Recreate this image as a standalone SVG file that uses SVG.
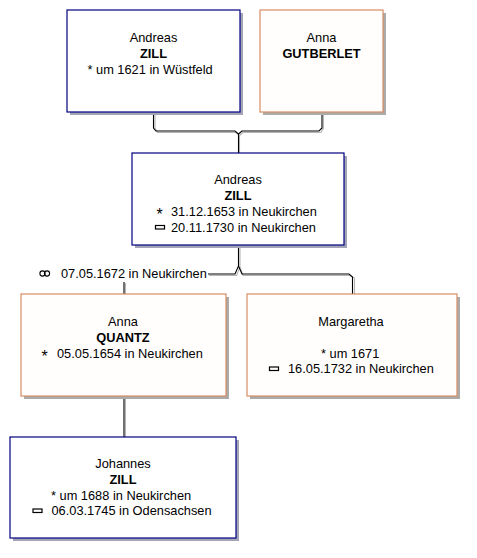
<svg xmlns="http://www.w3.org/2000/svg" width="477" height="558" viewBox="0 0 477 558">
<style>
  text { font-family: "Liberation Sans", Arial, sans-serif; font-size: 12.8px; fill: #000; }
  .c { text-anchor: middle; }
  .b { font-weight: bold; }
  .st { font-size: 16px; }
  .m { fill: #fff; stroke: #000080; stroke-width: 1.2; }
  .f { fill: #fffefc; stroke: #d88c64; stroke-width: 1.2; }
  .ms { fill: #a4a4b8; }
  .fs { fill: #ababab; }
  .ln { fill: none; stroke: #000; stroke-width: 1.1; }
  .sh { fill: none; stroke: #b4b4b4; stroke-width: 1.1; }
  .bur { fill: none; stroke: #000; stroke-width: 1.2; }
</style>
<rect width="477" height="558" fill="#fff"/>
<g id="connectors">
  <path class="sh" d="M155,113 V128 L157.5,132.5 H236 L239.5,135.5 V153 M323.5,113 V128 L321,132.5 H243 L239.5,135.5"/>
  <path class="ln" d="M153.5,112 V128 L156,131 H235 L238.5,134 V153 M322,112 V128 L319,131 H242 L238.5,134"/>
  <path class="sh" d="M240,246 V267 L236.5,275.5 H209 M240,267 L243,275.5 H350 L354.5,278 V294 M125.5,283 V294 M125.5,397 V437"/>
  <path class="ln" d="M238.5,245 V266 L235,274 H208 M238.5,266 L242,274 H349 L352.5,277 V294 M124,282 V294 M124,396 V437"/>
</g>
<g id="marriage-label">
  <circle cx="42.5" cy="273.5" r="2.6" fill="none" stroke="#000" stroke-width="1.1"/>
  <circle cx="47" cy="273.5" r="2.6" fill="none" stroke="#000" stroke-width="1.1"/>
  <text x="61" y="278">07.05.1672 in Neukirchen</text>
</g>
<g id="n1">
  <rect class="ms" x="70" y="13" width="173" height="102"/>
  <rect class="m" x="67" y="10" width="173" height="102"/>
  <text class="c" x="153.5" y="42">Andreas</text>
  <text class="c b" x="153.5" y="58">ZILL</text>
  <text x="87.5" y="74">* um 1621 in Wüstfeld</text>
</g>
<g id="n2">
  <rect class="fs" x="263" y="13" width="123" height="102"/>
  <rect class="f" x="260" y="10" width="123" height="102"/>
  <text class="c" x="321.5" y="42">Anna</text>
  <text class="c b" x="321.5" y="58">GUTBERLET</text>
</g>
<g id="n3">
  <rect class="ms" x="135" y="156" width="212" height="92"/>
  <rect class="m" x="132" y="153" width="212" height="92"/>
  <text class="c" x="238" y="184">Andreas</text>
  <text class="c b" x="238" y="200">ZILL</text>
  <text x="156.5" y="220"><tspan class="st">*</tspan><tspan x="171" y="216">31.12.1653 in Neukirchen</tspan></text>
  <rect class="bur" x="155.5" y="225.5" width="9" height="3.5"/>
  <text x="171" y="232">20.11.1730 in Neukirchen</text>
</g>
<g id="n4">
  <rect class="fs" x="24" y="297" width="205" height="102"/>
  <rect class="f" x="21" y="294" width="205" height="102"/>
  <text class="c" x="123" y="326">Anna</text>
  <text class="c b" x="123" y="342">QUANTZ</text>
  <text x="41.5" y="362"><tspan class="st">*</tspan><tspan x="57" y="358">05.05.1654 in Neukirchen</tspan></text>
</g>
<g id="n5">
  <rect class="fs" x="250" y="297" width="210" height="102"/>
  <rect class="f" x="247" y="294" width="210" height="102"/>
  <text class="c" x="351" y="326">Margaretha</text>
  <text x="321" y="358">* um 1671</text>
  <rect class="bur" x="269.5" y="367" width="9" height="3.5"/>
  <text x="288" y="373">16.05.1732 in Neukirchen</text>
</g>
<g id="n6">
  <rect class="ms" x="13" y="440" width="226" height="101"/>
  <rect class="m" x="10" y="437" width="226" height="101"/>
  <text class="c" x="123" y="468">Johannes</text>
  <text class="c b" x="123" y="484">ZILL</text>
  <text x="51" y="500">* um 1688 in Neukirchen</text>
  <rect class="bur" x="33" y="509" width="9" height="3.5"/>
  <text x="51.5" y="515">06.03.1745 in Odensachsen</text>
</g>
</svg>
